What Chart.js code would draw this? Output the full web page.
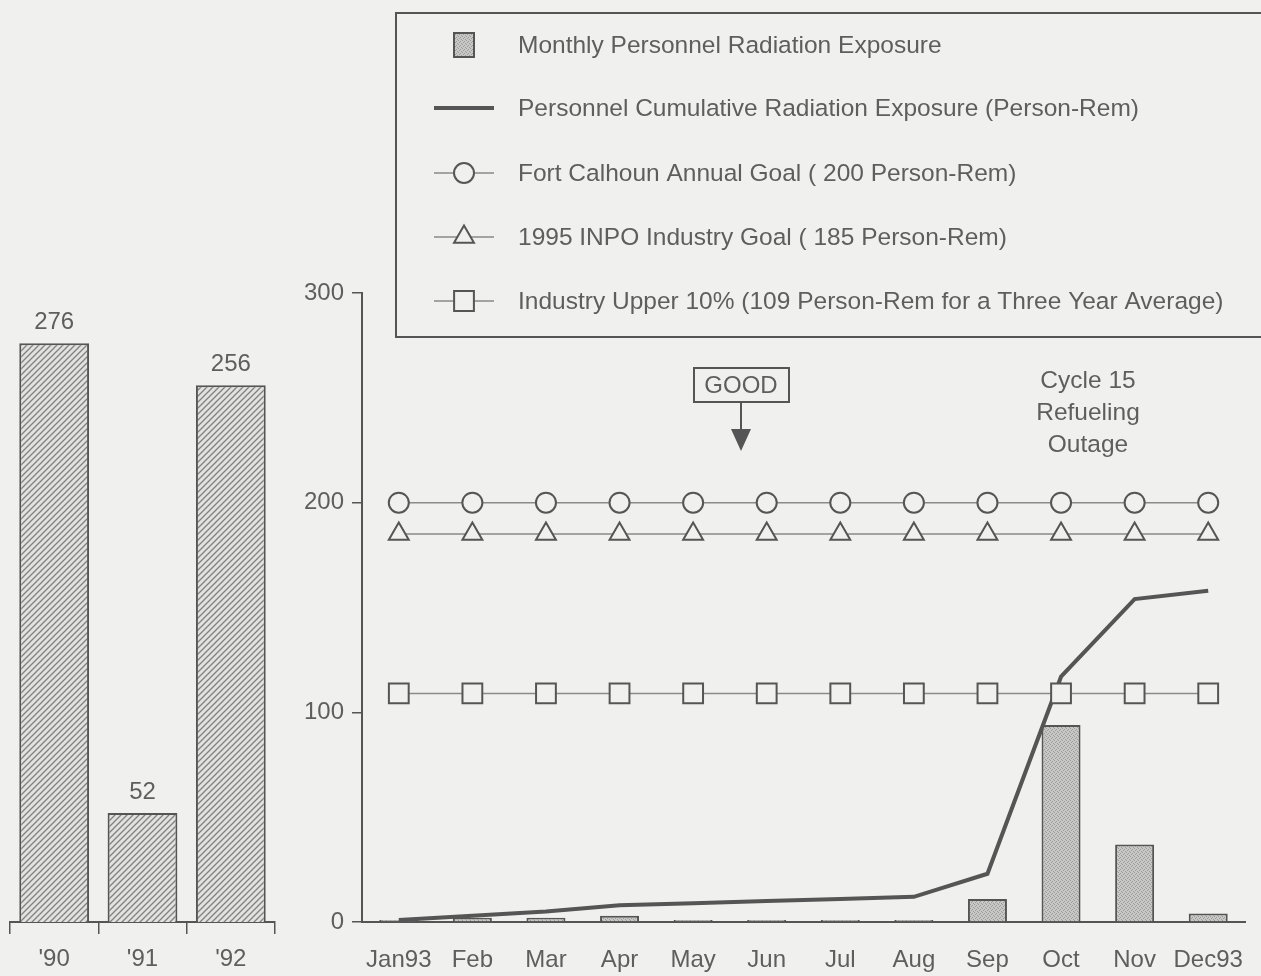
<!DOCTYPE html>
<html>
<head>
<meta charset="utf-8">
<script src="https://cdn.jsdelivr.net/npm/chart.js@4/dist/chart.umd.min.js"></script>
<style>
  html, body { margin: 0; padding: 0; background: #f0f0ee; }
  body { width: 1261px; height: 976px; position: relative; overflow: hidden; }
  canvas { position: absolute; top: 0; }
  #annual { left: 0; }
  #monthly { left: 290px; }
</style>
</head>
<body>
<canvas id="annual" width="290" height="976"></canvas>
<canvas id="monthly" width="971" height="976"></canvas>
<script>
// Annual totals for prior years
const years = ["'90", "'91", "'92"];
const annualExposure = [276, 52, 256];

// 1993 monthly data (person-rem)
const months = ['Jan93', 'Feb', 'Mar', 'Apr', 'May', 'Jun', 'Jul', 'Aug', 'Sep', 'Oct', 'Nov', 'Dec93'];
const monthlyExposure = [1, 2, 2, 3, 1, 1, 1, 1, 11, 94, 37, 4];
const cumulativeExposure = [1, 3, 5, 8, 9, 10, 11, 12, 23, 117, 154, 158];
const annualGoal = [200, 200, 200, 200, 200, 200, 200, 200, 200, 200, 200, 200];
const inpoGoal = [185, 185, 185, 185, 185, 185, 185, 185, 185, 185, 185, 185];
const upperTenPercent = [109, 109, 109, 109, 109, 109, 109, 109, 109, 109, 109, 109];
const yTicks = [0, 100, 200, 300];

const legendLabels = [
  'Monthly Personnel Radiation Exposure',
  'Personnel Cumulative Radiation Exposure (Person-Rem)',
  'Fort Calhoun Annual Goal ( 200 Person-Rem)',
  '1995 INPO Industry Goal ( 185 Person-Rem)',
  'Industry Upper 10% (109 Person-Rem for a Three Year Average)'
];

const BG = '#f0f0ee';
const INK = '#555555';
const TEXT = '#5e5e5e';
const FONT = "'Liberation Sans', Arial, sans-serif";

function hatchPattern(ctx) {
  const c = document.createElement('canvas');
  c.width = 6; c.height = 6;
  const g = c.getContext('2d');
  g.fillStyle = '#e2e2e0';
  g.fillRect(0, 0, 6, 6);
  g.strokeStyle = '#808080';
  g.lineWidth = 1.3;
  g.beginPath();
  g.moveTo(-1, 7); g.lineTo(7, -1);
  g.moveTo(-4, 4); g.lineTo(4, -4);
  g.moveTo(2, 10); g.lineTo(10, 2);
  g.stroke();
  return ctx.createPattern(c, 'repeat');
}

function stipplePattern(ctx) {
  const c = document.createElement('canvas');
  c.width = 4; c.height = 4;
  const g = c.getContext('2d');
  g.fillStyle = '#c8c8c6';
  g.fillRect(0, 0, 4, 4);
  g.fillStyle = '#9a9a98';
  [[0, 0], [2, 1], [1, 2], [3, 3]].forEach(([x, y]) => g.fillRect(x, y, 1, 1));
  return ctx.createPattern(c, 'repeat');
}

// Value labels above the annual bars
const barValueLabels = {
  id: 'barValueLabels',
  afterDatasetsDraw(chart) {
    const ctx = chart.ctx;
    const meta = chart.getDatasetMeta(0);
    ctx.save();
    ctx.fillStyle = TEXT;
    ctx.font = '24px ' + FONT;
    ctx.textAlign = 'center';
    ctx.textBaseline = 'bottom';
    meta.data.forEach((bar, i) => {
      ctx.fillText(String(chart.data.datasets[0].data[i]), bar.x, bar.y - 9);
    });
    ctx.restore();
  }
};

const annualCtx = document.getElementById('annual').getContext('2d');
new Chart(annualCtx, {
  type: 'bar',
  data: {
    labels: years,
    datasets: [{
      data: annualExposure,
      backgroundColor: hatchPattern(annualCtx),
      borderColor: INK,
      borderWidth: 2,
      categoryPercentage: 1,
      barPercentage: 0.79
    }]
  },
  options: {
    responsive: false,
    animation: false,
    layout: { padding: { left: 10, right: 15, top: 293, bottom: 0 } },
    plugins: { legend: { display: false }, tooltip: { enabled: false } },
    scales: {
      x: {
        grid: { drawOnChartArea: false, tickLength: 12, color: INK, lineWidth: 1.5 },
        border: { color: INK, width: 2 },
        ticks: { color: TEXT, font: { family: FONT, size: 24 }, padding: 11 },
        afterFit(s) { s.height = 54; s.paddingLeft = 0; s.paddingRight = 0; }
      },
      y: { display: false, min: 0, max: 300 }
    }
  },
  plugins: [barValueLabels]
});

// Legend box, "GOOD" indicator and outage note
const overlays = {
  id: 'overlays',
  afterDraw(chart) {
    const ctx = chart.ctx;
    const ox = -290; // canvas offset from page left
    const ds = chart.data.datasets;
    ctx.save();

    // legend frame
    ctx.strokeStyle = INK;
    ctx.lineWidth = 2;
    ctx.strokeRect(396 + ox, 13, 900, 324);

    const rows = [45, 108, 173, 237, 301];
    const iconX = 464 + ox;
    ctx.font = '24.5px ' + FONT;
    ctx.textBaseline = 'middle';
    ctx.textAlign = 'left';
    legendLabels.forEach((label, i) => {
      const y = rows[i];
      const d = ds[i];
      if (i === 0) {
        ctx.fillStyle = d.backgroundColor;
        ctx.fillRect(iconX - 10, y - 12, 20, 24);
        ctx.strokeStyle = INK;
        ctx.lineWidth = 2;
        ctx.strokeRect(iconX - 10, y - 12, 20, 24);
      } else {
        ctx.strokeStyle = d.borderColor;
        ctx.lineWidth = d.borderWidth;
        ctx.beginPath();
        ctx.moveTo(iconX - 30, y);
        ctx.lineTo(iconX + 30, y);
        ctx.stroke();
        if (d.pointRadius) {
          ctx.fillStyle = d.pointBackgroundColor;
          ctx.strokeStyle = d.pointBorderColor;
          ctx.lineWidth = d.pointBorderWidth;
          Chart.helpers.drawPoint(ctx, { pointStyle: d.pointStyle, radius: d.pointRadius, borderWidth: d.pointBorderWidth, rotation: 0 }, iconX, y);
        }
      }
      ctx.fillStyle = TEXT;
      ctx.fillText(label, 518 + ox, y + 1);
    });

    // GOOD box with arrow
    ctx.strokeStyle = INK;
    ctx.lineWidth = 2;
    ctx.strokeRect(694 + ox, 368, 95, 34);
    ctx.fillStyle = TEXT;
    ctx.textAlign = 'center';
    ctx.font = '24px ' + FONT;
    ctx.fillText('GOOD', 741 + ox, 386);
    ctx.beginPath();
    ctx.moveTo(741 + ox, 402);
    ctx.lineTo(741 + ox, 432);
    ctx.stroke();
    ctx.fillStyle = INK;
    ctx.beginPath();
    ctx.moveTo(731 + ox, 429);
    ctx.lineTo(751 + ox, 429);
    ctx.lineTo(741 + ox, 451);
    ctx.closePath();
    ctx.fill();

    // outage note
    ctx.fillStyle = TEXT;
    ctx.font = '24.5px ' + FONT;
    ctx.fillText('Cycle 15', 1088 + ox, 381);
    ctx.fillText('Refueling', 1088 + ox, 413);
    ctx.fillText('Outage', 1088 + ox, 445);
    ctx.restore();
  }
};

const monthlyCtx = document.getElementById('monthly').getContext('2d');
const markerStyle = {
  type: 'line',
  borderColor: '#8a8a88',
  borderWidth: 1.5,
  pointBackgroundColor: BG,
  pointBorderColor: INK,
  pointBorderWidth: 2,
  order: 1
};
new Chart(monthlyCtx, {
  data: {
    labels: months,
    datasets: [
      {
        type: 'bar',
        label: legendLabels[0],
        data: monthlyExposure,
        backgroundColor: stipplePattern(monthlyCtx),
        borderColor: INK,
        borderWidth: 2,
        categoryPercentage: 1,
        barPercentage: 0.53,
        order: 3
      },
      {
        type: 'line',
        label: legendLabels[1],
        data: cumulativeExposure,
        borderColor: INK,
        borderWidth: 4,
        pointRadius: 0,
        tension: 0,
        order: 2
      },
      Object.assign({}, markerStyle, { label: legendLabels[2], data: annualGoal, pointStyle: 'circle', pointRadius: 10 }),
      Object.assign({}, markerStyle, { label: legendLabels[3], data: inpoGoal, pointStyle: 'triangle', pointRadius: 11.5 }),
      Object.assign({}, markerStyle, { label: legendLabels[4], data: upperTenPercent, pointStyle: 'rect', pointRadius: 14 })
    ]
  },
  options: {
    responsive: false,
    animation: false,
    layout: { padding: { left: 0, right: 16, top: 293, bottom: 0 } },
    plugins: { legend: { display: false }, tooltip: { enabled: false } },
    scales: {
      x: {
        offset: true,
        grid: { display: false, drawTicks: false },
        border: { color: INK, width: 2 },
        ticks: { color: TEXT, font: { family: FONT, size: 24 }, padding: 24, maxRotation: 0, autoSkip: false },
        afterFit(s) { s.height = 54; s.paddingLeft = 0; s.paddingRight = 0; }
      },
      y: {
        min: 0,
        max: 300,
        afterBuildTicks(s) { s.ticks = yTicks.map(v => ({ value: v })); },
        grid: { drawOnChartArea: false, tickLength: 10, color: INK, lineWidth: 1.5 },
        border: { color: INK, width: 2 },
        ticks: { color: TEXT, font: { family: FONT, size: 24 }, padding: 8 },
        afterFit(s) { s.width = 72; }
      }
    }
  },
  plugins: [overlays]
});
</script>
</body>
</html>
